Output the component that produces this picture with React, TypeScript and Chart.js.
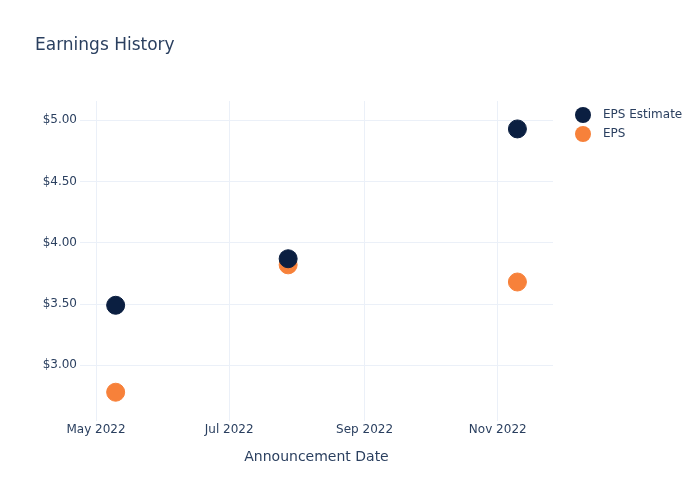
import React, { useEffect, useRef } from "react";
import { Chart, registerables } from "chart.js";

Chart.register(...registerables);

const announcementDates = ["2022-05-10", "2022-07-28", "2022-11-10"];
const epsEstimate = [3.49, 3.87, 4.93];
const epsActual = [2.78, 3.82, 3.68];
const xTickDates = ["2022-05-01", "2022-07-01", "2022-09-01", "2022-11-01"];
const xTickLabels = ["May 2022", "Jul 2022", "Sep 2022", "Nov 2022"];
const yTickValues = [3.0, 3.5, 4.0, 4.5, 5.0];
const seriesNames = ["EPS Estimate", "EPS"];
const seriesColors = ["#0b1f41", "#f7813a"];

const FONT = "'DejaVu Sans', Verdana, sans-serif";
const TEXT = "#2a3f5f";

const toDay = (s: string) => Date.parse(s + "T00:00:00Z") / 86400000;

export default function App() {
  const ref = useRef<HTMLCanvasElement | null>(null);

  useEffect(() => {
    document.body.style.margin = "0";
    if (!ref.current) return;
    const startDay = toDay(xTickDates[0]);

    const overlay = {
      id: "overlay",
      afterDraw(chart: any) {
        const ctx = chart.ctx;
        ctx.save();
        ctx.fillStyle = TEXT;
        ctx.textBaseline = "middle";
        ctx.textAlign = "left";
        ctx.font = `17px ${FONT}`;
        ctx.fillText("Earnings History", 35, 46);
        ctx.font = `12px ${FONT}`;
        seriesNames.forEach((name, i) => {
          const y = 115 + i * 19;
          ctx.beginPath();
          ctx.arc(583, y, 8, 0, Math.PI * 2);
          ctx.fillStyle = seriesColors[i];
          ctx.fill();
          ctx.fillStyle = TEXT;
          ctx.fillText(name, 603, y);
        });
        ctx.restore();
      },
    };

    const chart = new Chart(ref.current, {
      type: "scatter",
      data: {
        datasets: [
          {
            label: seriesNames[0],
            data: announcementDates.map((d, i) => ({ x: toDay(d), y: epsEstimate[i] })),
            backgroundColor: seriesColors[0],
            borderColor: seriesColors[0],
            pointRadius: 9,
            pointHoverRadius: 9,
          },
          {
            label: seriesNames[1],
            data: announcementDates.map((d, i) => ({ x: toDay(d), y: epsActual[i] })),
            backgroundColor: seriesColors[1],
            borderColor: seriesColors[1],
            pointRadius: 9,
            pointHoverRadius: 9,
          },
        ],
      },
      options: {
        responsive: false,
        animation: false,
        layout: { padding: { top: 101, right: 147, bottom: 0, left: 0 } },
        plugins: {
          legend: { display: false },
          title: { display: false },
          tooltip: { enabled: false },
        },
        scales: {
          x: {
            type: "linear",
            min: startDay - 7.33,
            max: startDay + 209.3,
            afterBuildTicks: (scale: any) => {
              scale.ticks = xTickDates.map((d) => ({ value: toDay(d) }));
            },
            afterFit: (scale: any) => {
              scale.height = 79;
            },
            ticks: {
              callback: (v: any) => {
                const idx = xTickDates.findIndex((d) => toDay(d) === v);
                return idx >= 0 ? xTickLabels[idx] : "";
              },
              color: TEXT,
              font: { family: FONT, size: 12 },
              padding: 2,
              maxRotation: 0,
            },
            grid: { color: "#ebf0f8", drawTicks: false },
            border: { display: false },
            title: {
              display: true,
              text: "Announcement Date",
              color: TEXT,
              font: { family: FONT, size: 14 },
              padding: { top: 0, bottom: 34.6 },
            },
          },
          y: {
            type: "linear",
            min: 2.545,
            max: 5.158,
            afterBuildTicks: (scale: any) => {
              scale.ticks = yTickValues.map((v) => ({ value: v }));
            },
            afterFit: (scale: any) => {
              scale.width = 80;
            },
            ticks: {
              callback: (v: any) => "$" + Number(v).toFixed(2),
              color: TEXT,
              font: { family: FONT, size: 12 },
              padding: 3,
            },
            grid: { color: "#ebf0f8", drawTicks: false },
            border: { display: false },
          },
        },
      },
      plugins: [overlay],
    } as any);

    return () => chart.destroy();
  }, []);

  return (
    <div style={{ width: 700, height: 500 }}>
      <canvas ref={ref} width={700} height={500} style={{ display: "block" }} />
    </div>
  );
}
